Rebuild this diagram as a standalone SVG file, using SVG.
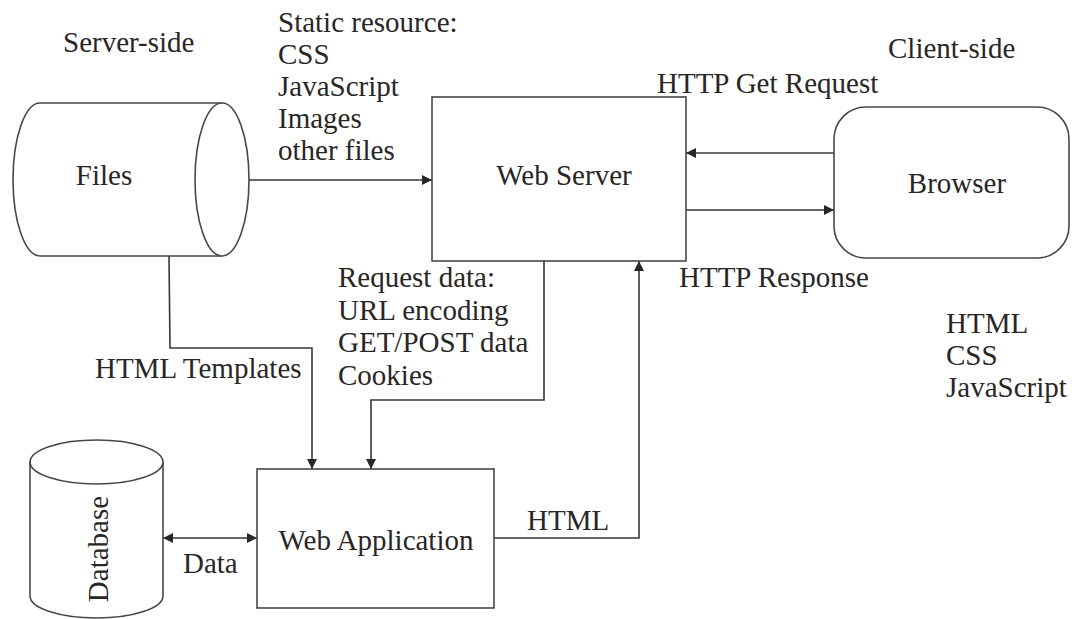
<svg xmlns="http://www.w3.org/2000/svg" width="1077" height="619" viewBox="0 0 1077 619">
<style>
text{font-family:'Liberation Serif',Tinos,'Times New Roman','Nimbus Roman','DejaVu Serif',serif;font-size:29px;fill:#2a2626}
.s{fill:#fff;stroke:#4a4646;stroke-width:1.6}
.c{fill:none;stroke:#3a3636;stroke-width:1.6}
.m{text-anchor:middle}
</style>
<defs>
<marker id="a" viewBox="0 0 10 10" refX="10" refY="5" markerWidth="10" markerHeight="11" markerUnits="userSpaceOnUse" orient="auto-start-reverse">
<path d="M0,0 L10,5 L0,10 z" fill="#2a2626"/>
</marker>
</defs>
<rect width="1077" height="619" fill="#fff"/>
<g id="labels" font-family="Liberation Serif, serif">
<text x="63" y="52">Server-side</text>
<text x="888" y="58">Client-side</text>
<text x="278" y="32">Static resource:</text>
<text x="278" y="64">CSS</text>
<text x="278" y="96">JavaScript</text>
<text x="278" y="128">Images</text>
<text x="278" y="160">other files</text>
<text x="657" y="93">HTTP Get Request</text>
<text x="679" y="287">HTTP Response</text>
<text x="338" y="287">Request data:</text>
<text x="338" y="320">URL encoding</text>
<text x="338" y="352">GET/POST data</text>
<text x="338" y="385">Cookies</text>
<text x="95" y="378">HTML Templates</text>
<text x="946" y="333">HTML</text>
<text x="946" y="365">CSS</text>
<text x="946" y="397">JavaScript</text>
<text x="527" y="530">HTML</text>
<text x="183" y="573">Data</text>
</g>
<g id="connectors">
<line class="c" x1="249" y1="180" x2="432" y2="180" marker-end="url(#a)"/>
<line class="c" x1="834" y1="153" x2="686" y2="153" marker-end="url(#a)"/>
<line class="c" x1="686" y1="210" x2="834" y2="210" marker-end="url(#a)"/>
<polyline class="c" points="169,256 170,348 312,348 312,469" marker-end="url(#a)"/>
<polyline class="c" points="544,261 544,400 371,400 371,469" marker-end="url(#a)"/>
<polyline class="c" points="494,538 639,538 639,261" marker-end="url(#a)"/>
<line class="c" x1="163" y1="538" x2="257" y2="538" marker-start="url(#a)" marker-end="url(#a)"/>
</g>
<g id="files">
<path class="s" d="M222,103 L40,103 A27,76.5 0 0 0 40,256 L222,256"/>
<ellipse class="s" cx="222" cy="179.5" rx="27" ry="76.5"/>
<text class="m" x="104" y="185">Files</text>
</g>
<g id="webserver">
<rect class="s" x="432" y="97" width="254" height="164"/>
<text class="m" x="564" y="185">Web Server</text>
</g>
<g id="browser">
<rect class="s" x="834" y="107" width="235" height="151" rx="32" ry="32"/>
<text class="m" x="957" y="193">Browser</text>
</g>
<g id="webapp">
<rect class="s" x="257" y="469" width="237" height="139"/>
<text class="m" x="376" y="550">Web Application</text>
</g>
<g id="database">
<path class="s" d="M30,462 L30,596 A66.5,22 0 0 0 163,596 L163,462"/>
<ellipse class="s" cx="96.5" cy="462" rx="66.5" ry="22"/>
<text class="m" transform="translate(108,549) rotate(-90)">Database</text>
</g>
</svg>
